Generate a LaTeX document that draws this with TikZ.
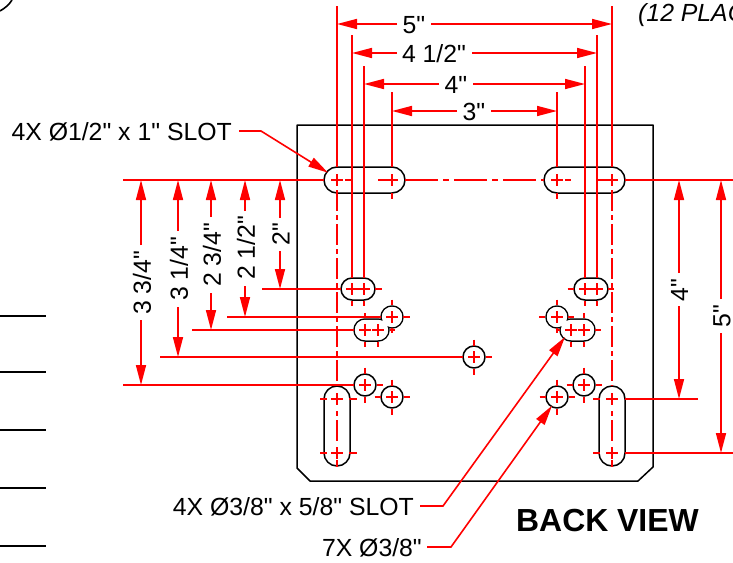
\documentclass[tikz,border=0pt]{standalone}
\usepackage{fontspec}
\setmainfont{Liberation Sans}
\newfontfamily\pf{Liberation Sans}
\usetikzlibrary{arrows.meta}
\tikzset{
  plate/.style={black,line width=1.5pt,line join=round},
  red line/.style={red,line width=1.6pt},
  dimend/.style={red line,-{Triangle[length=20pt,width=10pt]}},
  centerl/.style={red line,dash pattern=on 33pt off 5pt on 6pt off 5pt},
  vcenterl/.style={red line,dash pattern=on 21pt off 4pt on 5pt off 4pt},
  lab/.style={font=\pf\fontsize{24.8}{25}\selectfont,inner sep=0pt,text=black},
  vlab/.style={lab,rotate=90,anchor=center},
}
\newcommand\mk[2]{\draw[red line] (#1-6,#2)--(#1+6,#2) (#1,#2-6)--(#1,#2+6);}
\newcommand\hout[4]{\draw[plate] (#1,#3-#4) -- (#2,#3-#4) arc[start angle=90,end angle=-90,radius=#4pt] -- (#1,#3+#4) arc[start angle=-90,end angle=-270,radius=#4pt] -- cycle;}
\newcommand\hwhite[4]{\fill[white] (#1,#3-#4) -- (#2,#3-#4) arc[start angle=90,end angle=-90,radius=#4pt] -- (#1,#3+#4) arc[start angle=-90,end angle=-270,radius=#4pt] -- cycle;}
\newcommand\vout[4]{\draw[plate] (#1-#4,#2) -- (#1-#4,#3) arc[start angle=180,end angle=360,radius=#4pt] -- (#1+#4,#2) arc[start angle=0,end angle=180,radius=#4pt] -- cycle;}
\newcommand\holeat[2]{\draw[plate,fill=white] (#1,#2) circle[radius=11pt];\mk{#1}{#2}%
  \draw[red line] (#1-17.5,#2)--(#1-11.5,#2) (#1+11.5,#2)--(#1+17.5,#2) (#1,#2-17.5)--(#1,#2-11.5) (#1,#2+11.5)--(#1,#2+17.5);}
\begin{document}
\begin{tikzpicture}[x=1pt,y=-1pt]
\useasboundingbox (0,0) rectangle (733,562);
\clip (0,0) rectangle (733,562);
% plate
\draw[plate] (297,125) -- (653,125) -- (653,467) -- (638,481) -- (310,481) -- (297,468) -- cycle;
% stubs and fragment
\foreach \yy in {316,372,430,488,546} \draw[black,line width=1.5pt] (0,\yy) -- (46,\yy);
\draw[black,line width=1.6pt] (0,11) .. controls (5,8) and (9,5) .. (12,0);
% slots
\hout{337}{392}{180}{13}
\hout{557}{612}{180}{13}
\vout{337}{399}{453}{13}
\vout{612}{399}{453}{13}
\hout{352}{364}{289}{11}
\hout{585}{597}{289}{11}
% merged shapes
\hout{365}{378}{330}{11}
\draw[plate] (392,317) circle[radius=11pt];
\hwhite{365}{378}{330}{10.2}
\fill[white] (392,317) circle[radius=10.2pt];
\hout{571}{584}{330}{11}
\draw[plate] (557,317) circle[radius=11pt];
\hwhite{571}{584}{330}{10.2}
\fill[white] (557,317) circle[radius=10.2pt];
% holes
\holeat{365}{385}\holeat{392}{397}\holeat{474}{357}\holeat{584}{385}\holeat{557}{397}
% centre marks
\foreach \a/\b in {337/180,392/180,557/180,612/180,337/399,337/453,612/399,612/453,352/289,364/289,585/289,597/289,365/330,378/330,571/330,584/330,392/317,557/317} {\mk{\a}{\b}}
% centre lines
\draw[centerl] (405,180) -- (544,180);
\draw[vcenterl] (337,190) -- (337,386);
\draw[vcenterl] (612,190) -- (612,386);
\draw[red line,dash pattern=on 5pt off 4pt on 21pt off 4pt] (337,411) -- (337,442);
\draw[red line,dash pattern=on 5pt off 4pt on 21pt off 4pt] (612,411) -- (612,442);
\draw[red line] (337,460) -- (337,467) (612,460) -- (612,467);
% small dashes on slots
\draw[red line] (345,180)--(351,180) (378,180)--(386,180) (565,180)--(571,180) (598,180)--(606,180);
\draw[red line] (392,193)--(392,199) (557,193)--(557,199);
\draw[red line] (320,399)--(327,399) (349,399)--(356.5,399) (320,453)--(327,453) (349,453)--(356.5,453);
\draw[red line] (593,399)--(600,399) (593,453)--(600,453);
\draw[red line] (375,289)--(381.5,289) (352,301)--(352,306) (364,301)--(364,306);
\draw[red line] (567.5,289)--(574,289) (608,289)--(614,289) (585,301)--(585,306) (597,301)--(597,306);
\draw[red line] (365,341.5)--(365,347) (378,341.5)--(378,347) (365,313)--(365,318) (390,330)--(395,330);
\draw[red line] (571,341.5)--(571,347) (584,341.5)--(584,347) (584,313)--(584,318) (556,330)--(560,330) (595,330)--(601,330);
\draw[red line] (392,299.5)--(392,305) (403,317)--(409.5,317) (392,328)--(392,333);
\draw[red line] (557,299.5)--(557,305) (539,317)--(545,317) (557,328)--(557,333) (568,317)--(574,317);
% extension lines, top
\draw[red line] (337,6)--(337,167) (612,6)--(612,167);
\draw[red line] (352,35)--(352,278) (597,35)--(597,278);
\draw[red line] (364,66)--(364,278) (585,66)--(585,278);
\draw[red line] (392,92)--(392,167) (557,92)--(557,167);
% extension lines, left and right
\draw[red line] (123,180)--(324,180);
\draw[red line] (625,180)--(733,180);
\draw[red line] (262,289)--(341,289);
\draw[red line] (227,317)--(381,317);
\draw[red line] (192,330)--(354,330);
\draw[red line] (160,357)--(463,357);
\draw[red line] (123,385)--(354,385);
\draw[red line] (625,399)--(698,399);
\draw[red line] (625,453)--(733,453);
% horizontal dimensions
\draw[dimend] (397,24)--(337,24);
\draw[dimend] (431,24)--(612,24);
\node[lab] (d5) at (414,25) {5"};
\draw[dimend] (397,53)--(352,53);
\draw[dimend] (472,53)--(597,53);
\node[lab] (d45) at (434,54) {4 1/2"};
\draw[dimend] (439,84)--(364,84);
\draw[dimend] (473,84)--(585,84);
\node[lab] (d4) at (456,85) {4"};
\draw[dimend] (457,111)--(392,111);
\draw[dimend] (491,111)--(557,111);
\node[lab] (d3) at (474,112) {3"};
% left dimensions
\draw[dimend] (141,245)--(141,180);
\draw[dimend] (141,320)--(141,385);
\node[vlab] (l1) at (142,283) {3 3/4"};
\draw[dimend] (178,231)--(178,180);
\draw[dimend] (178,307)--(178,357);
\node[vlab] (l2) at (179,269) {3 1/4"};
\draw[dimend] (211,217)--(211,180);
\draw[dimend] (211,293)--(211,330);
\node[vlab] (l3) at (212,255) {2 3/4"};
\draw[dimend] (245,211)--(245,180);
\draw[dimend] (245,286)--(245,317);
\node[vlab] (l4) at (246,248) {2 1/2"};
\draw[dimend] (280,218)--(280,180);
\draw[dimend] (280,251)--(280,289);
\node[vlab] (l5) at (281,234) {2"};
% right dimensions
\draw[dimend] (679,273)--(679,180);
\draw[dimend] (679,306)--(679,399);
\node[vlab] (r1) at (679.5,290) {4"};
\draw[dimend] (721,299)--(721,180);
\draw[dimend] (721,333)--(721,453);
\node[vlab] (r2) at (722,316) {5"};
% labels and leaders
\node[lab,anchor=base east] (t1) at (232,140) {4X Ø1/2" x 1" SLOT};
\coordinate (t1a) at (239,131); \coordinate (t1b) at (261,131); \coordinate (t1c) at (328,172.7);
\draw[dimend] (t1a)--(t1b)--(t1c);
\node[lab,anchor=base east] (t2) at (414,515) {4X Ø3/8" x 5/8" SLOT};
\coordinate (t2a) at (420,506); \coordinate (t2b) at (443,506); \coordinate (t2c) at (565,337);
\draw[dimend] (t2a)--(t2b)--(t2c);
\node[lab,anchor=base east] (t3) at (422,556) {7X Ø3/8"};
\coordinate (t3a) at (427,547); \coordinate (t3b) at (451,547); \coordinate (t3c) at (552,405.7);
\draw[dimend] (t3a)--(t3b)--(t3c);
\node[font=\pf\bfseries\fontsize{31.9}{32}\selectfont,inner sep=0pt,anchor=base west] (bv) at (516,531) {BACK VIEW};
\node[lab,anchor=base west,font=\pf\itshape\fontsize{24.8}{25}\selectfont] (pl) at (638,21) {(12 PLAC};
\end{tikzpicture}
\end{document}
